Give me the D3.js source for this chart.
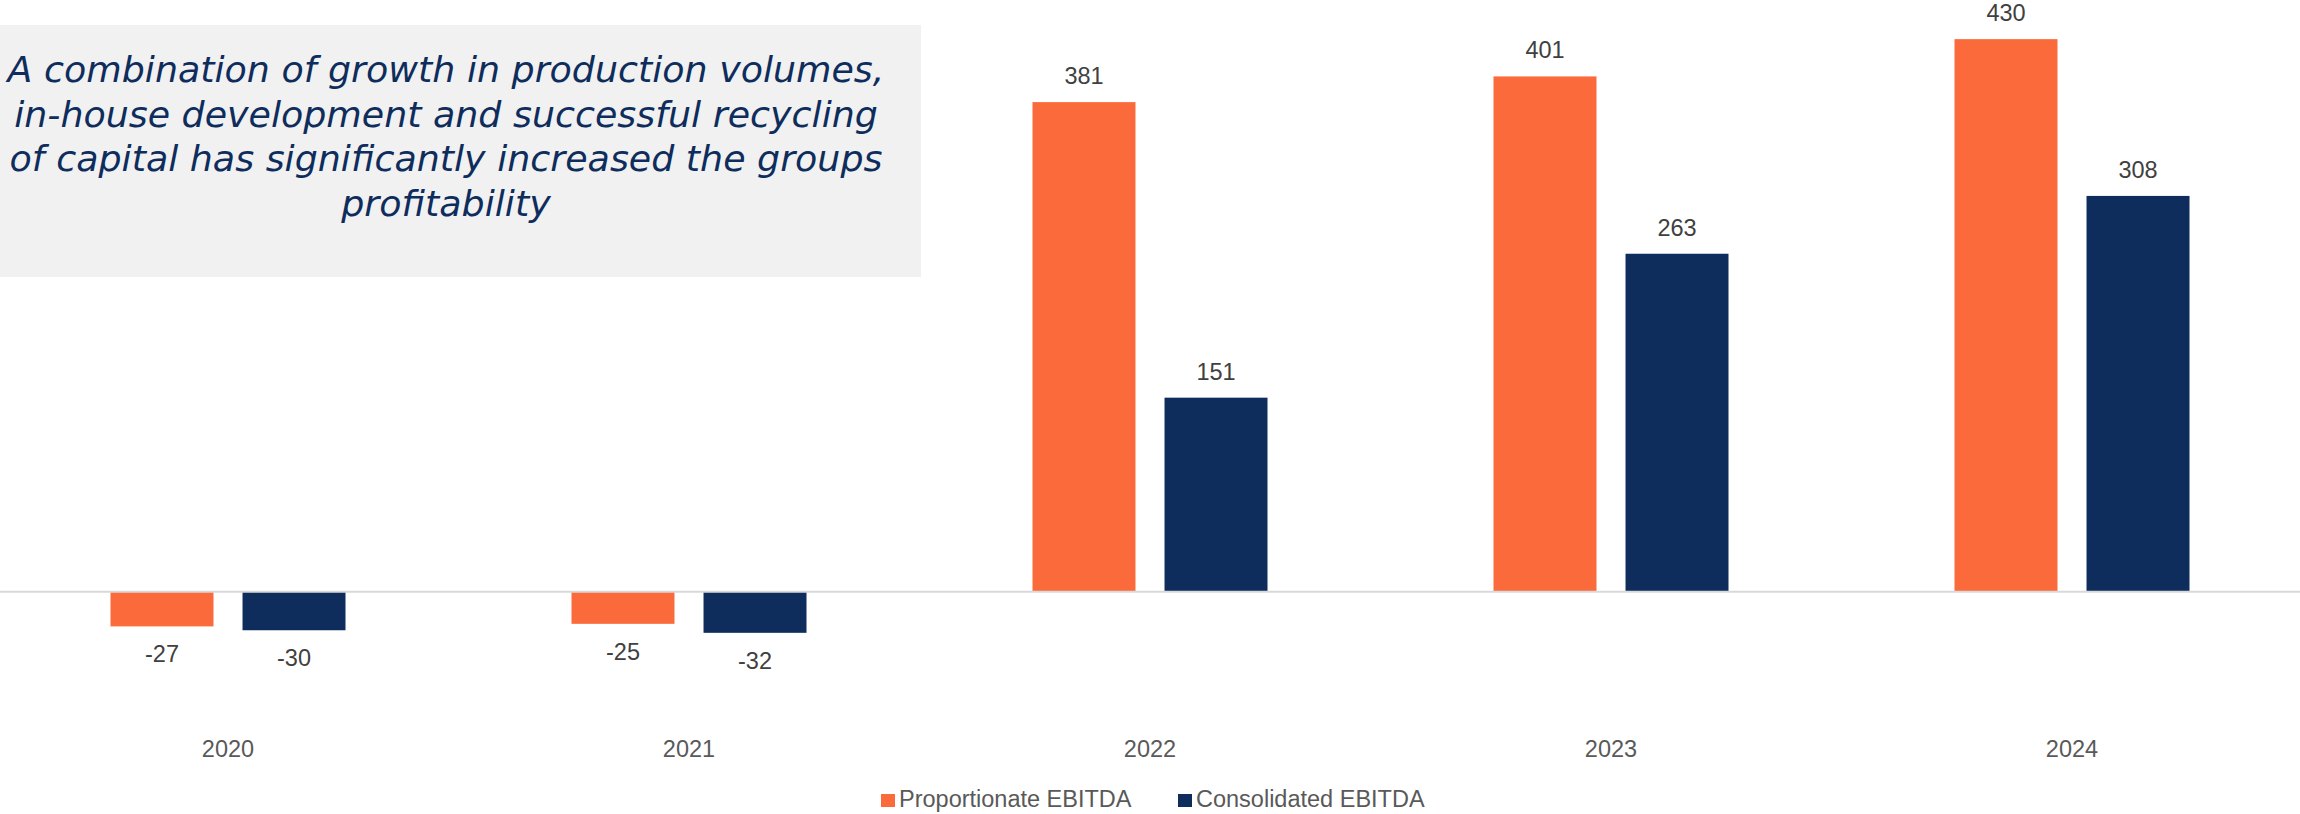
<!DOCTYPE html>
<html>
<head>
<meta charset="utf-8">
<script src="https://cdn.jsdelivr.net/npm/d3@7"></script>
<style>
    body { margin: 0; background: #ffffff; }
    svg { display: block; }
</style>
</head>
<body>
<svg id="chart"></svg>
<script>
var years = ["2020", "2021", "2022", "2023", "2024"];
var seriesNames = ["Proportionate EBITDA", "Consolidated EBITDA"];
var proportionate = [-27, -25, 381, 401, 430];
var consolidated = [-30, -32, 151, 263, 308];
var titleLines = [
    "A combination of growth in production volumes,",
    "in-house development and successful recycling",
    "of capital has significantly increased the groups",
    "profitability"
];

var width = 2300;
var height = 814;
var colors = ["#fb6a3a", "#0e2d5c"];
var labelFont = "'Liberation Sans', Arial, sans-serif";

var svg = d3.select("#chart")
    .attr("width", width)
    .attr("height", height);

// Title box
svg.append("rect")
    .attr("x", 0)
    .attr("y", 25)
    .attr("width", 921)
    .attr("height", 252)
    .style("fill", "#f1f1f1");

var title = svg.append("g")
    .style("font-family", "'DejaVu Sans', sans-serif")
    .style("font-style", "italic")
    .style("fill", "#0e2d5c");

var titleSize = 34;
titleLines.forEach(function(line, i)
{
    title.append("text")
        .attr("x", 446)
        .attr("y", 82 + i * 44.6)
        .attr("text-anchor", "middle")
        .style("font-size", titleSize + "px")
        .text(line);
});

// fit the widest line to about 877px
var widest = 0;
title.selectAll("text").each(function() { widest = Math.max(widest, this.getComputedTextLength()); });
titleSize = titleSize * 877 / widest;
title.selectAll("text").style("font-size", titleSize + "px");

// Scales
var x0 = d3.scaleBand()
    .domain(years)
    .range([-2.5, 2302.5]);

var x1 = d3.scaleBand()
    .domain(seriesNames)
    .range([0, 235])
    .paddingInner(0.22);

var y = d3.scaleLinear()
    .domain([-50, 450])
    .range([591.7 + 50 * 1.285, 591.7 - 450 * 1.285]);

var data = years.map(function(year, i)
{
    return { year: year, values: [proportionate[i], consolidated[i]] };
});

var groups = svg.selectAll("g.year")
    .data(data)
    .enter()
    .append("g")
    .attr("class", "year")
    .attr("transform", function(d) { return "translate(" + (x0(d.year) + x0.bandwidth() / 2 - 117.5) + ",0)"; });

groups.selectAll("rect")
    .data(function(d) { return d.values.map(function(v, si) { return { name: seriesNames[si], value: v, si: si }; }); })
    .enter()
    .append("rect")
    .attr("x", function(d) { return x1(d.name); })
    .attr("y", function(d) { return Math.min(y(d.value), y(0)); })
    .attr("width", x1.bandwidth())
    .attr("height", function(d) { return Math.abs(y(d.value) - y(0)); })
    .style("fill", function(d) { return colors[d.si]; });

groups.selectAll("text.value")
    .data(function(d) { return d.values.map(function(v, si) { return { name: seriesNames[si], value: v }; }); })
    .enter()
    .append("text")
    .attr("class", "value")
    .attr("x", function(d) { return x1(d.name) + x1.bandwidth() / 2; })
    .attr("y", function(d) { return d.value >= 0 ? y(d.value) - 18 : y(d.value) + 36; })
    .attr("text-anchor", "middle")
    .style("font-family", labelFont)
    .style("font-size", "23.5px")
    .style("fill", "#404040")
    .text(function(d) { return d.value; });

// Zero line
svg.append("line")
    .attr("x1", 0)
    .attr("x2", width)
    .attr("y1", y(0))
    .attr("y2", y(0))
    .style("stroke", "#d9d9d9")
    .style("stroke-width", 2);

// Category axis
var xAxis = svg.append("g")
    .attr("transform", "translate(0," + 757 + ")")
    .call(d3.axisBottom(x0).tickSize(0).tickPadding(0));

xAxis.select(".domain").remove();
xAxis.selectAll("text")
    .attr("dy", 0)
    .style("font-family", labelFont)
    .style("font-size", "23.5px")
    .style("fill", "#595959");

// Legend
var legendX = [881, 1178];
var legend = svg.selectAll("g.legend")
    .data(seriesNames)
    .enter()
    .append("g")
    .attr("class", "legend")
    .attr("transform", function(d, i) { return "translate(" + legendX[i] + ",0)"; });

legend.append("rect")
    .attr("x", 0)
    .attr("y", 794)
    .attr("width", 14)
    .attr("height", 13)
    .style("fill", function(d, i) { return colors[i]; });

legend.append("text")
    .attr("x", 18)
    .attr("y", 806.5)
    .style("font-family", labelFont)
    .style("font-size", "23.5px")
    .style("fill", "#595959")
    .text(function(d) { return d; });
</script>
</body>
</html>
